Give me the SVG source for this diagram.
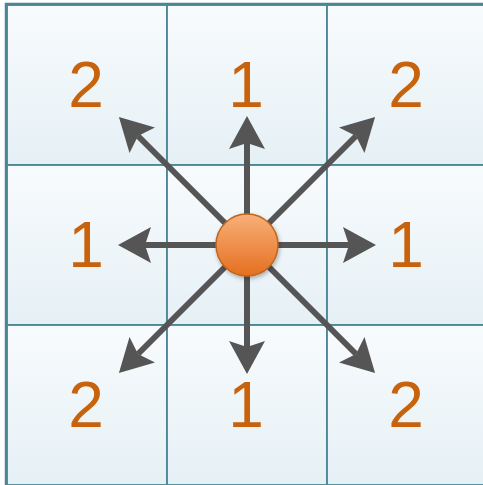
<svg xmlns="http://www.w3.org/2000/svg" width="483" height="485" viewBox="0 0 483 485">
  <defs>
    <linearGradient id="cellGrad" x1="0" y1="0" x2="0" y2="1">
      <stop offset="0" stop-color="#f8fbfd"/>
      <stop offset="1" stop-color="#e5f0f5"/>
    </linearGradient>
    <linearGradient id="ballGrad" x1="0" y1="0" x2="0" y2="1">
      <stop offset="0" stop-color="#f8b07a"/>
      <stop offset="1" stop-color="#e56f1f"/>
    </linearGradient>
    <filter id="shadow" x="-30%" y="-30%" width="160%" height="160%">
      <feDropShadow dx="1" dy="2" stdDeviation="2" flood-color="#000" flood-opacity="0.3"/>
    </filter>
    <marker id="arrow" viewBox="0 0 33 36" refX="6" refY="18" markerWidth="33" markerHeight="36" markerUnits="userSpaceOnUse" orient="auto">
      <path d="M0,0 L33,18 L0,36 L6,18 Z" fill="#555555"/>
    </marker>
  </defs>
  <style>
    .cell { fill: url(#cellGrad); stroke: #4a8696; stroke-width: 1.8; }
    .num { font-family: "Liberation Sans", Arial, sans-serif; font-size: 64px; fill: #c8620c; text-anchor: middle; }
    .conn line { stroke: #555555; stroke-width: 6; marker-end: url(#arrow); }
  </style>

  <g id="cell-0-0"><rect class="cell" x="7" y="5" width="160" height="160"/><text class="num" x="86" y="107">2</text></g>
  <g id="cell-0-1"><rect class="cell" x="167" y="5" width="160" height="160"/><text class="num" x="246" y="107">1</text></g>
  <g id="cell-0-2"><rect class="cell" x="327" y="5" width="160" height="160"/><text class="num" x="406" y="107">2</text></g>
  <g id="cell-1-0"><rect class="cell" x="7" y="165" width="160" height="160"/><text class="num" x="86" y="267">1</text></g>
  <g id="cell-1-1"><rect class="cell" x="167" y="165" width="160" height="160"/></g>
  <g id="cell-1-2"><rect class="cell" x="327" y="165" width="160" height="160"/><text class="num" x="406" y="267">1</text></g>
  <g id="cell-2-0"><rect class="cell" x="7" y="325" width="160" height="160"/><text class="num" x="86" y="427">2</text></g>
  <g id="cell-2-1"><rect class="cell" x="167" y="325" width="160" height="160"/><text class="num" x="246" y="427">1</text></g>
  <g id="cell-2-2"><rect class="cell" x="327" y="325" width="160" height="160"/><text class="num" x="406" y="427">2</text></g>
  <rect x="6" y="4" width="500" height="500" fill="none" stroke="#4a8696" stroke-width="2.5"/>

  <g id="connectors" class="conn">
    <line x1="247" y1="245" x2="247" y2="143"/>
    <line x1="247" y1="245" x2="247" y2="347"/>
    <line x1="247" y1="245" x2="145" y2="245"/>
    <line x1="247" y1="245" x2="349" y2="245"/>
    <line x1="247" y1="245" x2="138" y2="136"/>
    <line x1="247" y1="245" x2="356" y2="136"/>
    <line x1="247" y1="245" x2="138" y2="354"/>
    <line x1="247" y1="245" x2="356" y2="354"/>
  </g>

  <g id="center">
    <circle cx="247" cy="245" r="31" fill="url(#ballGrad)" stroke="#c0651d" stroke-width="1.5" filter="url(#shadow)"/>
  </g>
</svg>
